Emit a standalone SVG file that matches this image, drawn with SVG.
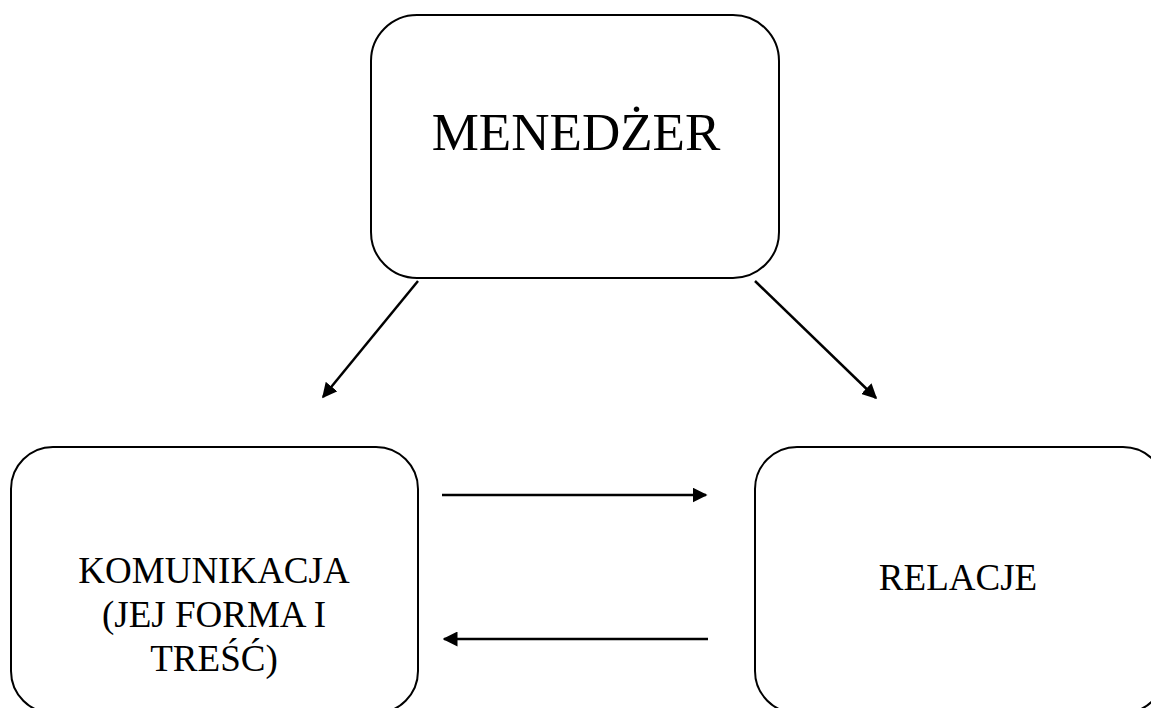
<svg xmlns="http://www.w3.org/2000/svg" width="1151" height="708" viewBox="0 0 1151 708">
<style>
.box{fill:#fff;stroke:#000;stroke-width:2}
.t{font-family:"Liberation Serif","Times New Roman",serif;fill:#000;text-anchor:middle}
.c{stroke:#000;stroke-width:2.5;fill:none;marker-end:url(#ah)}
</style>
<defs>
<marker id="ah" viewBox="0 0 10 10" refX="9" refY="5" markerWidth="6" markerHeight="6" markerUnits="strokeWidth" orient="auto">
<path d="M0,0 L10,5 L0,10 z" fill="#000"/>
</marker>
</defs>
<rect width="1151" height="708" fill="#fff"/>
<g id="menedzer">
<rect class="box" x="371" y="15" width="408" height="263" rx="46" ry="46"/>
<text class="t" x="576" y="150" font-size="53">MENEDŻER</text>
</g>
<g id="komunikacja">
<rect class="box" x="11" y="447" width="407" height="266" rx="42" ry="42"/>
<text class="t" x="214" y="583" font-size="37">KOMUNIKACJA</text>
<text class="t" x="214" y="627" font-size="37">(JEJ FORMA I</text>
<text class="t" x="214" y="671" font-size="37">TREŚĆ)</text>
</g>
<g id="relacje">
<rect class="box" x="755" y="447" width="410" height="266" rx="42" ry="42"/>
<text class="t" x="958" y="590" font-size="37">RELACJE</text>
</g>
<g id="connectors">
<line class="c" x1="418" y1="281" x2="323" y2="397"/>
<line class="c" x1="755" y1="281" x2="876" y2="398"/>
<line class="c" x1="442" y1="495" x2="706" y2="495"/>
<line class="c" x1="708" y1="639" x2="444" y2="639"/>
</g>
</svg>
